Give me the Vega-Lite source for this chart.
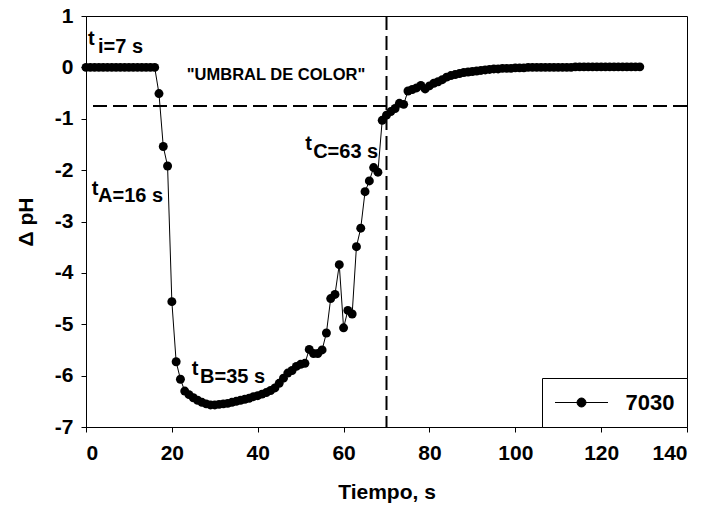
{
  "$schema": "https://vega.github.io/schema/vega-lite/v6.json",
  "width": 601,
  "height": 411,
  "autosize": {"type": "none"},
  "padding": {"left": 86, "top": 16, "right": 20, "bottom": 84},
  "background": "white",
  "config": {
    "font": "Liberation Sans",
    "view": {"stroke": "black", "strokeWidth": 1},
    "axis": {
      "grid": false,
      "domainColor": "black",
      "domainWidth": 1,
      "tickColor": "black",
      "tickSize": 5,
      "labelColor": "black",
      "labelFont": "Liberation Sans",
      "labelFontSize": 21,
      "labelFontWeight": "bold",
      "titleFont": "Liberation Sans",
      "titleFontSize": 21,
      "titleFontWeight": "bold",
      "titleColor": "black"
    }
  },
  "datasets": {
    "series": [
      {"t": 0, "dph": 0, "series": "7030"}, {"t": 1, "dph": 0, "series": "7030"}, {"t": 2, "dph": 0, "series": "7030"}, {"t": 3, "dph": 0, "series": "7030"},
      {"t": 4, "dph": 0, "series": "7030"}, {"t": 5, "dph": 0, "series": "7030"}, {"t": 6, "dph": 0, "series": "7030"}, {"t": 7, "dph": 0, "series": "7030"},
      {"t": 8, "dph": 0, "series": "7030"}, {"t": 9, "dph": 0, "series": "7030"}, {"t": 10, "dph": 0, "series": "7030"}, {"t": 11, "dph": 0, "series": "7030"},
      {"t": 12, "dph": 0, "series": "7030"}, {"t": 13, "dph": 0, "series": "7030"}, {"t": 14, "dph": 0, "series": "7030"}, {"t": 15, "dph": 0, "series": "7030"},
      {"t": 16, "dph": 0, "series": "7030"}, {"t": 17, "dph": -0.51, "series": "7030"}, {"t": 18, "dph": -1.54, "series": "7030"}, {"t": 19, "dph": -1.92, "series": "7030"},
      {"t": 20, "dph": -4.56, "series": "7030"}, {"t": 21, "dph": -5.73, "series": "7030"}, {"t": 22, "dph": -6.07, "series": "7030"}, {"t": 23, "dph": -6.3, "series": "7030"},
      {"t": 24, "dph": -6.37, "series": "7030"}, {"t": 25, "dph": -6.43, "series": "7030"}, {"t": 26, "dph": -6.48, "series": "7030"}, {"t": 27, "dph": -6.52, "series": "7030"},
      {"t": 28, "dph": -6.55, "series": "7030"}, {"t": 29, "dph": -6.57, "series": "7030"}, {"t": 30, "dph": -6.57, "series": "7030"}, {"t": 31, "dph": -6.56, "series": "7030"},
      {"t": 32, "dph": -6.55, "series": "7030"}, {"t": 33, "dph": -6.54, "series": "7030"}, {"t": 34, "dph": -6.52, "series": "7030"}, {"t": 35, "dph": -6.5, "series": "7030"},
      {"t": 36, "dph": -6.48, "series": "7030"}, {"t": 37, "dph": -6.46, "series": "7030"}, {"t": 38, "dph": -6.44, "series": "7030"}, {"t": 39, "dph": -6.41, "series": "7030"},
      {"t": 40, "dph": -6.39, "series": "7030"}, {"t": 41, "dph": -6.36, "series": "7030"}, {"t": 42, "dph": -6.33, "series": "7030"}, {"t": 43, "dph": -6.29, "series": "7030"},
      {"t": 44, "dph": -6.24, "series": "7030"}, {"t": 45, "dph": -6.15, "series": "7030"}, {"t": 46, "dph": -6.05, "series": "7030"}, {"t": 47, "dph": -5.95, "series": "7030"},
      {"t": 48, "dph": -5.9, "series": "7030"}, {"t": 49, "dph": -5.82, "series": "7030"}, {"t": 50, "dph": -5.78, "series": "7030"}, {"t": 51, "dph": -5.76, "series": "7030"},
      {"t": 52, "dph": -5.49, "series": "7030"}, {"t": 53, "dph": -5.57, "series": "7030"}, {"t": 54, "dph": -5.57, "series": "7030"}, {"t": 55, "dph": -5.5, "series": "7030"},
      {"t": 56, "dph": -5.17, "series": "7030"}, {"t": 57, "dph": -4.5, "series": "7030"}, {"t": 58, "dph": -4.42, "series": "7030"}, {"t": 59, "dph": -3.84, "series": "7030"},
      {"t": 60, "dph": -5.07, "series": "7030"}, {"t": 61, "dph": -4.73, "series": "7030"}, {"t": 62, "dph": -4.8, "series": "7030"}, {"t": 63, "dph": -3.49, "series": "7030"},
      {"t": 64, "dph": -3.13, "series": "7030"}, {"t": 65, "dph": -2.42, "series": "7030"}, {"t": 66, "dph": -2.21, "series": "7030"}, {"t": 67, "dph": -1.95, "series": "7030"},
      {"t": 68, "dph": -2.04, "series": "7030"}, {"t": 69, "dph": -1.03, "series": "7030"}, {"t": 70, "dph": -0.93, "series": "7030"}, {"t": 71, "dph": -0.86, "series": "7030"},
      {"t": 72, "dph": -0.8, "series": "7030"}, {"t": 73, "dph": -0.7, "series": "7030"}, {"t": 74, "dph": -0.72, "series": "7030"}, {"t": 75, "dph": -0.46, "series": "7030"},
      {"t": 76, "dph": -0.43, "series": "7030"}, {"t": 77, "dph": -0.4, "series": "7030"}, {"t": 78, "dph": -0.35, "series": "7030"}, {"t": 79, "dph": -0.42, "series": "7030"},
      {"t": 80, "dph": -0.36, "series": "7030"}, {"t": 81, "dph": -0.31, "series": "7030"}, {"t": 82, "dph": -0.28, "series": "7030"}, {"t": 83, "dph": -0.24, "series": "7030"},
      {"t": 84, "dph": -0.19, "series": "7030"}, {"t": 85, "dph": -0.16, "series": "7030"}, {"t": 86, "dph": -0.14, "series": "7030"}, {"t": 87, "dph": -0.12, "series": "7030"},
      {"t": 88, "dph": -0.1, "series": "7030"}, {"t": 89, "dph": -0.09, "series": "7030"}, {"t": 90, "dph": -0.08, "series": "7030"}, {"t": 91, "dph": -0.07, "series": "7030"},
      {"t": 92, "dph": -0.06, "series": "7030"}, {"t": 93, "dph": -0.05, "series": "7030"}, {"t": 94, "dph": -0.04, "series": "7030"}, {"t": 95, "dph": -0.03, "series": "7030"},
      {"t": 96, "dph": -0.03, "series": "7030"}, {"t": 97, "dph": -0.02, "series": "7030"}, {"t": 98, "dph": -0.02, "series": "7030"}, {"t": 99, "dph": -0.02, "series": "7030"},
      {"t": 100, "dph": -0.01, "series": "7030"}, {"t": 101, "dph": -0.01, "series": "7030"}, {"t": 102, "dph": -0.01, "series": "7030"}, {"t": 103, "dph": 0, "series": "7030"},
      {"t": 104, "dph": 0, "series": "7030"}, {"t": 105, "dph": 0, "series": "7030"}, {"t": 106, "dph": 0, "series": "7030"}, {"t": 107, "dph": 0, "series": "7030"},
      {"t": 108, "dph": 0, "series": "7030"}, {"t": 109, "dph": 0, "series": "7030"}, {"t": 110, "dph": 0, "series": "7030"}, {"t": 111, "dph": 0, "series": "7030"},
      {"t": 112, "dph": 0, "series": "7030"}, {"t": 113, "dph": 0, "series": "7030"}, {"t": 114, "dph": 0.01, "series": "7030"}, {"t": 115, "dph": 0.01, "series": "7030"},
      {"t": 116, "dph": 0.01, "series": "7030"}, {"t": 117, "dph": 0.01, "series": "7030"}, {"t": 118, "dph": 0.01, "series": "7030"}, {"t": 119, "dph": 0.01, "series": "7030"},
      {"t": 120, "dph": 0.01, "series": "7030"}, {"t": 121, "dph": 0.01, "series": "7030"}, {"t": 122, "dph": 0.01, "series": "7030"}, {"t": 123, "dph": 0.01, "series": "7030"},
      {"t": 124, "dph": 0.01, "series": "7030"}, {"t": 125, "dph": 0.01, "series": "7030"}, {"t": 126, "dph": 0.01, "series": "7030"}, {"t": 127, "dph": 0.01, "series": "7030"},
      {"t": 128, "dph": 0.01, "series": "7030"}, {"t": 129, "dph": 0.01, "series": "7030"}
    ],
    "notes": [
      {"t": 0.47, "dph": 0.436, "label": "t"},
      {"t": 2.8, "dph": 0.286, "label": "i=7 s"},
      {"t": 1.33, "dph": -2.484, "label": "t"},
      {"t": 2.8, "dph": -2.62, "label": "A=16 s"},
      {"t": 24.64, "dph": -5.99, "label": "t"},
      {"t": 26.57, "dph": -6.15, "label": "B=35 s"},
      {"t": 51.05, "dph": -1.61, "label": "t"},
      {"t": 52.91, "dph": -1.76, "label": "C=63 s"}
    ],
    "umbral": [{"t": 23.47, "dph": -0.245, "label": "\"UMBRAL DE COLOR\""}],
    "hrule": [{"dph": -0.75}],
    "vrule": [{"t": 70}]
  },
  "layer": [
    {
      "data": {"name": "hrule"},
      "mark": {"type": "rule", "color": "black", "strokeWidth": 2, "strokeDash": [14, 6]},
      "encoding": {
        "y": {"field": "dph", "type": "quantitative", "scale": {"domain": [-7, 1], "nice": false}, "axis": {"title": "Δ pH", "values": [-7, -6, -5, -4, -3, -2, -1, 0, 1], "labelExpr": "'' + datum.value", "labelPadding": 8, "titlePadding": 18}}
      }
    },
    {
      "data": {"name": "vrule"},
      "mark": {"type": "rule", "color": "black", "strokeWidth": 2, "strokeDash": [14, 6]},
      "encoding": {
        "x": {"field": "t", "type": "quantitative", "scale": {"domain": [0, 140], "nice": false}, "axis": {"title": "Tiempo, s", "values": [0, 20, 40, 60, 80, 100, 120, 140], "labelPadding": 10, "titlePadding": 18}}
      }
    },
    {
      "data": {"name": "series"},
      "mark": {"type": "line", "color": "black", "strokeWidth": 1},
      "encoding": {
        "x": {"field": "t", "type": "quantitative", "title": "Tiempo, s"},
        "y": {"field": "dph", "type": "quantitative", "title": "Δ pH"}
      }
    },
    {
      "data": {"name": "series"},
      "mark": {"type": "point", "filled": true, "size": 80, "opacity": 1},
      "encoding": {
        "x": {"field": "t", "type": "quantitative", "title": "Tiempo, s"},
        "y": {"field": "dph", "type": "quantitative", "title": "Δ pH"},
        "color": {
          "field": "series",
          "type": "nominal",
          "scale": {"range": ["black"]},
          "legend": {
            "title": null,
            "orient": "bottom-right",
            "offset": 0,
            "padding": 12.5,
            "clipHeight": 24,
            "strokeColor": "black",
            "fillColor": "white",
            "symbolType": "M-1,0H1M0.17,0A0.17,0.17,0,1,1,-0.17,0A0.17,0.17,0,1,1,0.17,0Z",
            "symbolSize": 2809,
            "symbolStrokeColor": "black",
            "symbolFillColor": "black",
            "symbolStrokeWidth": 1,
            "labelOffset": 17,
            "labelFontSize": 22,
            "labelFontWeight": "bold",
            "labelColor": "black",
            "labelFont": "Liberation Sans"
          }
        }
      }
    },
    {
      "data": {"name": "notes"},
      "mark": {"type": "text", "align": "left", "baseline": "alphabetic", "fontSize": 20, "fontWeight": "bold", "color": "black", "font": "Liberation Sans"},
      "encoding": {
        "x": {"field": "t", "type": "quantitative", "title": "Tiempo, s"},
        "y": {"field": "dph", "type": "quantitative", "title": "Δ pH"},
        "text": {"field": "label"}
      }
    },
    {
      "data": {"name": "umbral"},
      "mark": {"type": "text", "align": "left", "baseline": "alphabetic", "fontSize": 16.5, "fontWeight": "bold", "color": "black", "font": "Liberation Sans"},
      "encoding": {
        "x": {"field": "t", "type": "quantitative", "title": "Tiempo, s"},
        "y": {"field": "dph", "type": "quantitative", "title": "Δ pH"},
        "text": {"field": "label"}
      }
    }
  ]
}
